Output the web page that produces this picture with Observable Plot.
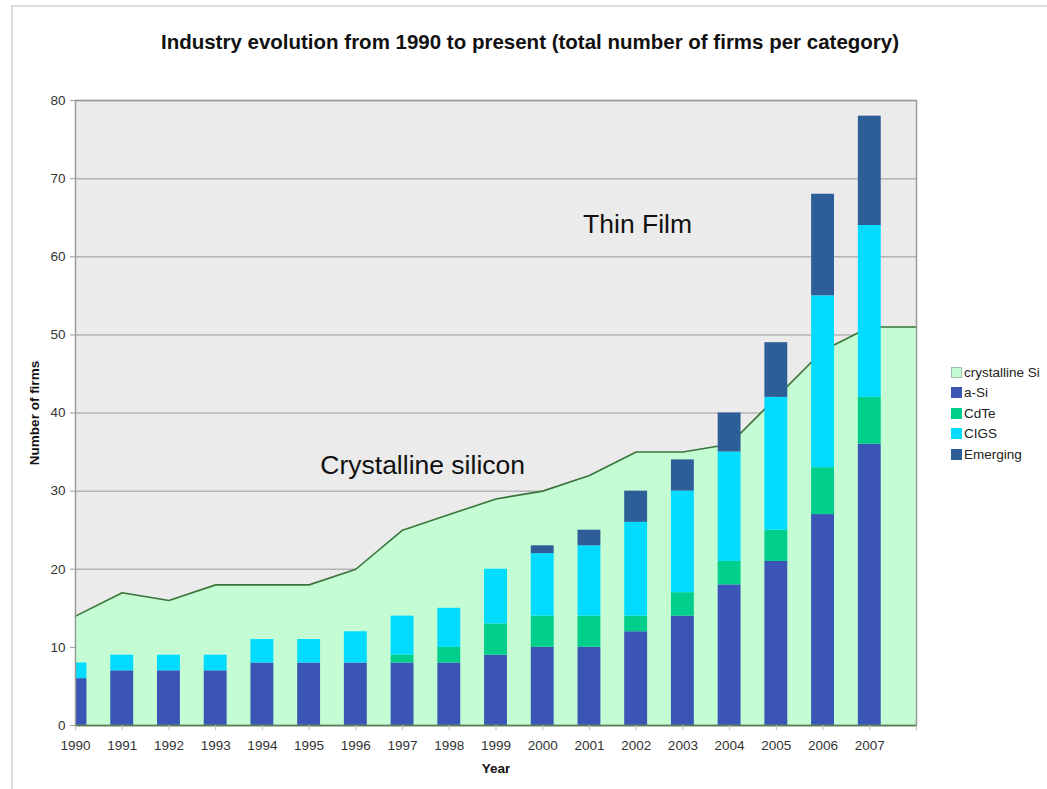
<!DOCTYPE html>
<html>
<head>
<meta charset="utf-8">
<script src="https://cdn.jsdelivr.net/npm/d3@7"></script>
<script src="https://cdn.jsdelivr.net/npm/@observablehq/plot@0.6"></script>
<style>
  body { margin: 0; background: #fff; font-family: "Liberation Sans", Arial, sans-serif; }
  #wrap { position: relative; width: 1047px; height: 789px; overflow: hidden; background: #fff; }
  #pageborder { position: absolute; left: 11px; top: 5px; width: 1200px; height: 1000px;
    border-left: 2px solid #dcdcdc; border-top: 2px solid #dcdcdc; }
  #title { position: absolute; top: 30px; left: 0; width: 1060px; text-align: center;
    font-size: 20.5px; font-weight: bold; color: #111; }
  #chart { position: absolute; left: 0; top: 80px; }
  #legend { position: absolute; left: 951px; top: 362px; font-size: 13.5px; color: #222; }
  #legend .row { display: flex; align-items: center; height: 20.5px; }
  #legend .sw { width: 11px; height: 11px; margin-right: 2px; box-sizing: border-box; }
  g[aria-label="y-axis label"] text, g[aria-label="x-axis label"] text { font-weight: bold; font-size: 13.5px; fill: #111; }
</style>
</head>
<body>
<div id="wrap">
  <div id="pageborder"></div>
  <div id="title">Industry evolution from 1990 to present (total number of firms per category)</div>
  <div id="chart"></div>
  <div id="legend"></div>
</div>
<script>
// ---- data ----
const years = [1990, 1991, 1992, 1993, 1994, 1995, 1996, 1997, 1998, 1999, 2000, 2001, 2002, 2003, 2004, 2005, 2006, 2007];
const aSi      = [6, 7, 7, 7, 8, 8, 8, 8, 8, 9, 10, 10, 12, 14, 18, 21, 27, 36];
const cdTe     = [0, 0, 0, 0, 0, 0, 0, 1, 2, 4, 4, 4, 2, 3, 3, 4, 6, 6];
const cigs     = [2, 2, 2, 2, 3, 3, 4, 5, 5, 7, 8, 9, 12, 13, 14, 17, 22, 22];
const emerging = [0, 0, 0, 0, 0, 0, 0, 0, 0, 0, 1, 2, 4, 4, 5, 7, 13, 14];
const areaYears = [1990, 1991, 1992, 1993, 1994, 1995, 1996, 1997, 1998, 1999, 2000, 2001, 2002, 2003, 2004, 2005, 2006, 2007, 2008];
const crystallineSi = [14, 17, 16, 18, 18, 18, 20, 25, 27, 29, 30, 32, 35, 35, 36, 42, 48, 51, 51];
const yTicks = [0, 10, 20, 30, 40, 50, 60, 70, 80];
const xTicks = [1990, 1991, 1992, 1993, 1994, 1995, 1996, 1997, 1998, 1999, 2000, 2001, 2002, 2003, 2004, 2005, 2006, 2007, 2008];
const seriesNames = ["a-Si", "CdTe", "CIGS", "Emerging"];
const legendNames = ["crystalline Si", "a-Si", "CdTe", "CIGS", "Emerging"];

// ---- styles ----
const colors = {"crystalline Si": "#c4fcd4", "a-Si": "#3a55b5", "CdTe": "#00cf8b", "CIGS": "#00dbff", "Emerging": "#2e5e98"};
const barHalf = 0.245;
const font = "Liberation Sans, Arial, sans-serif";

// build tables
const seriesValues = [aSi, cdTe, cigs, emerging];
const stacked = [];
years.forEach((yr, i) => {
  let base = 0;
  seriesNames.forEach((name, s) => {
    const v = seriesValues[s][i];
    if (v > 0) stacked.push({year: yr, series: name, y1: base, y2: base + v});
    base += v;
  });
});
const areaData = areaYears.map((yr, i) => ({year: yr, value: crystallineSi[i]}));

const chart = Plot.plot({
  width: 1047,
  height: 709,
  marginTop: 20,
  marginBottom: 64,
  marginLeft: 75,
  marginRight: 131,
  style: {fontFamily: font, fontSize: "13.5px", color: "#333", background: "transparent"},
  x: {domain: [1990, 2008]},
  y: {domain: [0, 80]},
  color: {domain: seriesNames, range: seriesNames.map(n => colors[n])},
  marks: [
    Plot.frame({fill: "#ebebeb", stroke: null}),
    Plot.gridY(yTicks, {stroke: "#b4b4b4", strokeOpacity: 1, strokeWidth: 1.5}),
    Plot.areaY(areaData, {x: "year", y: "value", fill: colors["crystalline Si"]}),
    Plot.lineY(areaData, {x: "year", y: "value", stroke: "#3a743a", strokeWidth: 1.6}),
    Plot.rect(stacked, {x1: d => d.year - barHalf, x2: d => d.year + barHalf, y1: "y1", y2: "y2", fill: "series", clip: true}),
    Plot.text(["Thin Film"], {x: 2002.03, y: 64.1, text: d => d, fontSize: 26.5, fill: "#111", fontFamily: font}),
    Plot.text(["Crystalline silicon"], {x: 1997.43, y: 33.3, text: d => d, fontSize: 26.5, fill: "#111", fontFamily: font}),
    Plot.frame({stroke: "#9a9a9a", strokeWidth: 1.5}),
    Plot.ruleY([0], {stroke: "#4f7f4f", strokeWidth: 1.5}),
    Plot.axisY({ticks: yTicks, tickSize: 5, tickPadding: 5, fontSize: 13.5, fill: "#333", stroke: "#999", label: "Number of firms", labelAnchor: "center", labelArrow: "none", labelOffset: 46}),
    Plot.axisX({ticks: xTicks, tickFormat: d => (d === 2008 ? "" : String(d)), tickSize: 5, tickPadding: 10, fontSize: 13.5, fill: "#333", stroke: "#bbb", label: "Year", labelAnchor: "center", labelArrow: "none", labelOffset: 47})
  ]
});
document.getElementById("chart").appendChild(chart);

// legend
const legend = document.getElementById("legend");
legendNames.forEach(name => {
  const row = document.createElement("div");
  row.className = "row";
  const sw = document.createElement("div");
  sw.className = "sw";
  sw.style.background = colors[name];
  if (name === "crystalline Si") sw.style.border = "1px solid #9fbfa8";
  const t = document.createElement("span");
  t.textContent = name;
  row.appendChild(sw);
  row.appendChild(t);
  legend.appendChild(row);
});
</script>
</body>
</html>
